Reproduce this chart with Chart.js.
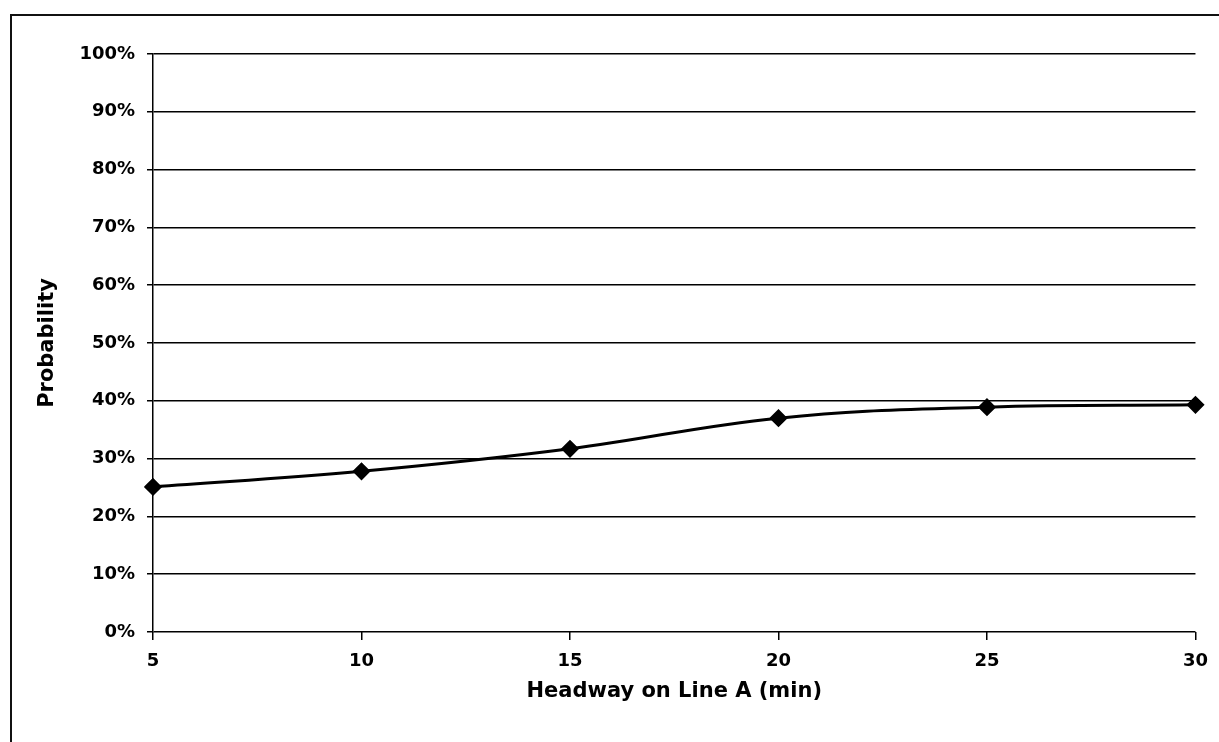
<!DOCTYPE html>
<html>
<head>
<meta charset="utf-8">
<script src="https://cdn.jsdelivr.net/npm/chart.js@4/dist/chart.umd.min.js"></script>
<style>
  html, body { margin: 0; padding: 0; background: #fff; overflow: hidden; }
  #wrap { position: relative; width: 1219px; height: 742px; }
  #frame {
    position: absolute; left: 10px; top: 14px; width: 1300px; height: 800px;
    border-left: 2px solid #111; border-top: 2px solid #111;
  }
  canvas { position: absolute; left: 0; top: 0; }
</style>
</head>
<body>
<div id="wrap">
  <div id="frame"></div>
  <canvas id="probChart" width="1219" height="742"></canvas>
</div>
<script>
// headway on line A (minutes) and probability (%)
const headways = ['5', '10', '15', '20', '25', '30'];
const probability = [25.1, 27.8, 31.7, 37.0, 38.9, 39.3];
const yTicks = [0, 10, 20, 30, 40, 50, 60, 70, 80, 90, 100];

const tickFont = { family: '"DejaVu Sans", Arial, sans-serif', size: 18, weight: 'bold' };
const titleFont = { family: '"DejaVu Sans", Arial, sans-serif', size: 21, weight: 'bold' };

new Chart(document.getElementById('probChart'), {
  type: 'line',
  data: {
    labels: headways,
    datasets: [{
      data: probability,
      borderColor: '#000',
      borderWidth: 3,
      backgroundColor: '#000',
      pointStyle: 'rectRot',
      pointRadius: 7,
      pointHoverRadius: 7,
      tension: 0.4,
      fill: false,
    }],
  },
  options: {
    responsive: false,
    animation: false,
    layout: { padding: { top: 54, right: 18, bottom: 0, left: 0 } },
    plugins: { legend: { display: false }, tooltip: { enabled: false } },
    scales: {
      x: {
        type: 'category',
        offset: false,
        grid: { drawOnChartArea: false, drawTicks: true, tickLength: 8, color: '#000', lineWidth: 1.5 },
        border: { display: false },
        ticks: { color: '#000', font: tickFont, padding: 11, maxRotation: 0 },
        title: { display: true, text: 'Headway on Line A (min)', color: '#000', font: titleFont, padding: { top: 4, bottom: 38 } },
        afterFit: (scale) => { scale.height = 110; },
      },
      y: {
        min: 0,
        max: 100,
        afterBuildTicks: (scale) => { scale.ticks = yTicks.map((v) => ({ value: v })); },
        grid: { color: '#000', lineWidth: 1.5, tickLength: 6 },
        border: { display: true, color: '#000', width: 1.5 },
        ticks: { color: '#000', font: tickFont, padding: 12, callback: (v) => v + '%' },
        title: { display: true, text: 'Probability', color: '#000', font: titleFont, padding: { top: 35 } },
        afterFit: (scale) => { scale.width = 153; },
      },
    },
  },
});
</script>
</body>
</html>
